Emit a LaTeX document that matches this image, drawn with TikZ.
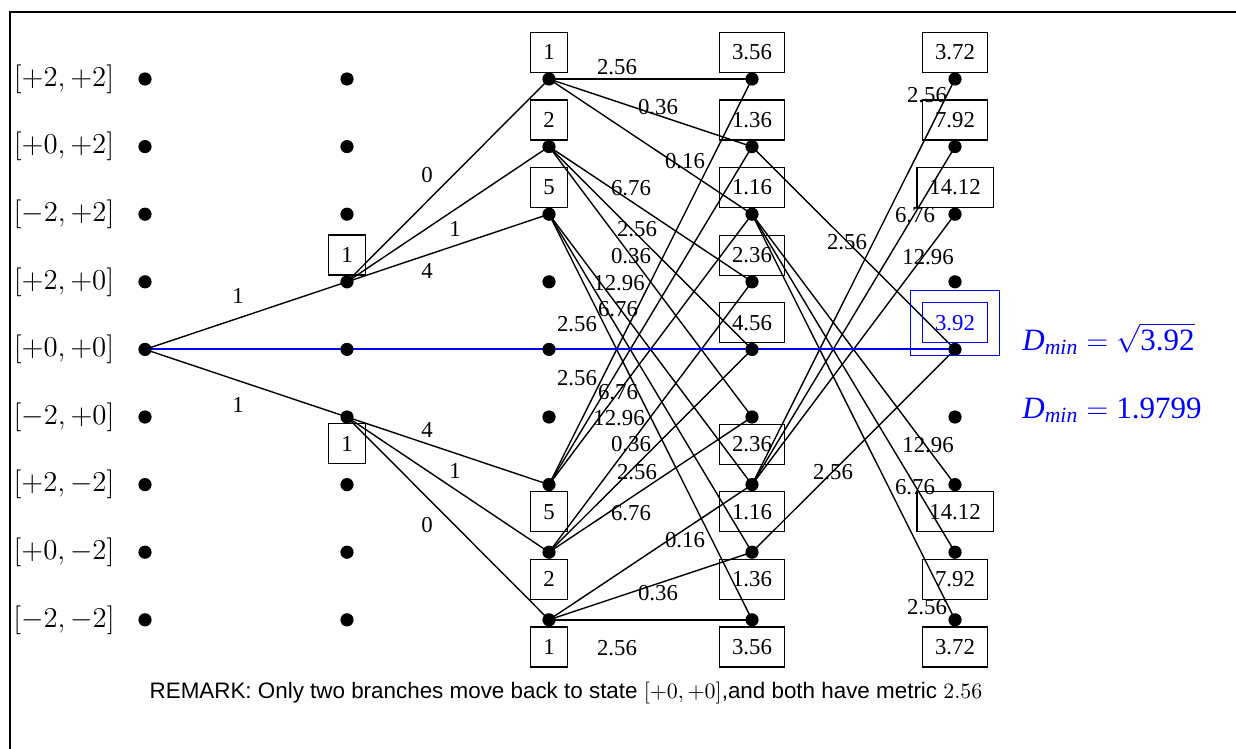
\documentclass[tikz,border=0pt]{standalone}
\usepackage{amsmath}
\usepackage[no-math]{fontspec}
\setmainfont{Liberation Serif}
\setsansfont{Liberation Sans}
\pgfdeclarelayer{bg}
\pgfdeclarelayer{mid}
\pgfsetlayers{bg,mid,main}
\definecolor{pureblue}{RGB}{0,0,255}
\begin{document}
\begin{tikzpicture}[x=0.5pt,y=-0.5pt,
  dot/.style={circle,fill=black,inner sep=0pt,minimum size=6.6pt},
  edge/.style={line width=0.7pt},
  box/.style={draw,line width=0.55pt,inner xsep=6.2pt,inner ysep=0pt,minimum height=20pt,font=\fontsize{11.4}{13}\selectfont},
  lbl/.style={inner sep=0pt,font=\fontsize{11.4}{13}\selectfont},
  statelbl/.style={inner sep=0pt,font=\fontsize{13.8}{16}\selectfont},
  dmin/.style={anchor=base west,inner sep=0pt,text=pureblue,font=\fontsize{15.5}{18}\selectfont}
]
\useasboundingbox (0,0) rectangle (1236,749);
\draw[line width=0.7pt] (10,749) -- (10,12) -- (1236,12);

% trellis states
\foreach \c/\x in {0/145,1/347,2/549,3/752,4/955}{
  \foreach \r in {0,...,8}{
    \node[dot] (s\c\r) at (\x,{79+67.6*\r}) {};
  }
}

% state labels
\foreach \r/\t in {0/{[+2, +2]},1/{[+0, +2]},2/{[-2, +2]},3/{[+2, +0]},4/{[+0, +0]},5/{[-2, +0]},6/{[+2, -2]},7/{[+0, -2]},8/{[-2, -2]}}{
  \node[statelbl] (l\r) at (64,{79+67.6*\r}) {$\t$};
}

% connectors
\begin{pgfonlayer}{bg}
\foreach \a/\b in {04/13,04/15,
  13/20,13/21,13/22,15/26,15/27,15/28,
  20/30,20/31,20/32,21/33,21/34,21/35,22/36,22/37,22/38,
  26/30,26/31,26/32,27/33,27/34,27/35,28/36,28/37,28/38,
  36/40,36/41,36/42,31/44,37/44,32/46,32/47,32/48}{
  \draw[edge] (s\a.center) -- (s\b.center);
}
\end{pgfonlayer}
\begin{pgfonlayer}{mid}
\draw[draw=pureblue,line width=1pt] (s04.center) -- (s44.center);
\end{pgfonlayer}

% metric boxes
\node[box] (b13) at ([yshift=13.4pt]s13) {1};
\node[box] (b15) at ([yshift=-13.4pt]s15) {1};
\node[box] (b20) at ([yshift=13.3pt]s20) {1};
\node[box] (b21) at ([yshift=13.3pt]s21) {2};
\node[box] (b22) at ([yshift=13.3pt]s22) {5};
\node[box] (b26) at ([yshift=-13.6pt]s26) {5};
\node[box] (b27) at ([yshift=-13.6pt]s27) {2};
\node[box] (b28) at ([yshift=-13.6pt]s28) {1};
\node[box] (b30) at ([yshift=13.3pt]s30) {3.56};
\node[box] (b31) at ([yshift=13.3pt]s31) {1.36};
\node[box] (b32) at ([yshift=13.3pt]s32) {1.16};
\node[box] (b33) at ([yshift=13.3pt]s33) {2.36};
\node[box] (b34) at ([yshift=13.3pt]s34) {4.56};
\node[box] (b35) at ([yshift=-13.6pt]s35) {2.36};
\node[box] (b36) at ([yshift=-13.6pt]s36) {1.16};
\node[box] (b37) at ([yshift=-13.6pt]s37) {1.36};
\node[box] (b38) at ([yshift=-13.6pt]s38) {3.56};
\node[box] (b40) at ([yshift=13.3pt]s40) {3.72};
\node[box] (b41) at ([yshift=13.3pt]s41) {7.92};
\node[box] (b42) at ([yshift=13.3pt]s42) {14.12};
\node[box,draw=pureblue,text=pureblue] (b44) at ([yshift=13.3pt]s44) {3.92};
\node[box] (b46) at ([yshift=-13.6pt]s46) {14.12};
\node[box] (b47) at ([yshift=-13.6pt]s47) {7.92};
\node[box] (b48) at ([yshift=-13.6pt]s48) {3.72};
\draw[draw=pureblue,line width=0.55pt] ([shift={(-6pt,-6pt)}]b44.south west) rectangle ([shift={(6pt,6pt)}]b44.north east);

% branch metric labels
\foreach \x/\y/\t [count=\i] in {238/296/1, 238/405/1,
  427/175/0, 455/229/1, 427/271/4, 427/430/4, 455/471/1, 427/525/0,
  617/67/2.56, 658/107/0.36, 685/161/0.16, 631/188/6.76, 637/229/2.56, 631/256/0.36,
  619/283/12.96, 618/309/6.76, 577/324/2.56,
  577/378/2.56, 618/392/6.76, 619/418/12.96, 631/444/0.36, 637/472/2.56, 631/513/6.76,
  685/540/0.16, 658/593/0.36, 617/648/2.56,
  927/95/2.56, 915/215/6.76, 847/242/2.56, 928/257/12.96,
  928/445/12.96, 833/472/2.56, 915/487/6.76, 927/607/2.56}{
  \node[lbl] (m\i) at (\x,\y) {\t};
}

% result
\node[dmin] (dm1) at (1022,350) {$\textit{D}_{\textit{min}} = \sqrt{\text{3.92}}$};
\node[dmin] (dm2) at (1022,418) {$\textit{D}_{\textit{min}} = \text{1.9799}$};

% remark
\node[inner sep=0pt,font=\sffamily\fontsize{11.2}{13}\selectfont] (rem) at (566,693)
  {REMARK: Only two branches move back to state $[+0, +0]$,and both have metric $2.56$};
\end{tikzpicture}
\end{document}
